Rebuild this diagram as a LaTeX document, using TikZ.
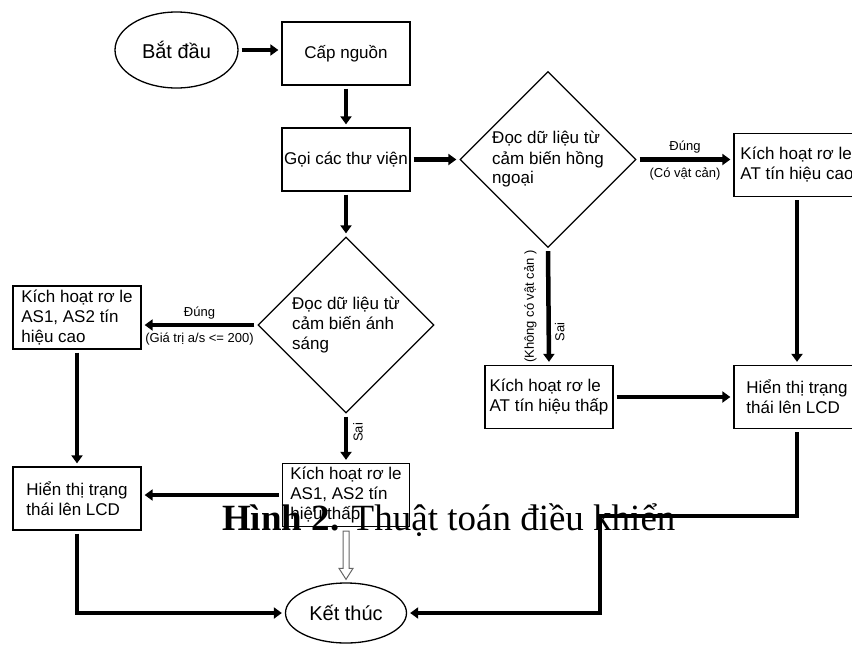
\documentclass[tikz,border=0pt]{standalone}
\usepackage{fontspec}
\setmainfont{Liberation Serif}
\newfontfamily\arialfont{Liberation Sans}
\usetikzlibrary{arrows.meta,shapes.geometric,calc}
\begin{document}
\begin{tikzpicture}[x=1pt,y=-1pt,
  boxtext/.style={font=\arialfont\fontsize{17}{20}\selectfont},
  box/.style={boxtext, draw, line width=1.3pt, rectangle, minimum width=128pt,
    minimum height=63pt, inner sep=2pt, align=left},
  oval/.style={draw, line width=1.3pt, ellipse, minimum width=122pt,
    minimum height=64pt, font=\arialfont\fontsize{20}{24}\selectfont},
  decision/.style={boxtext, draw, line width=1.3pt, diamond, minimum width=176pt,
    minimum height=176pt, inner sep=-6pt, align=left},
  flow/.style={line width=4.5pt, -{Triangle[length=8pt,width=11pt]},
    shorten <=3pt, shorten >=3pt},
  lbl/.style={font=\arialfont\fontsize{13}{15}\selectfont, inner sep=1pt},
  hollow/.style={draw=black!60, line width=1pt, fill=white},
]
\useasboundingbox (0,0) rectangle (852,646);
\clip (0,0) rectangle (852,646);

% start, power and library setup
\node[oval, minimum width=123pt, minimum height=76pt] (start) at (176.5,50) {Bắt đầu};
\node[box, align=center] (cap) at (346,53.5) {Cấp nguồn};
\node[box, align=center] (goi) at (346,159.5) {Gọi các thư viện};

% infrared sensor branch
\node[decision] (ir) at (548,159.5) {Đọc dữ liệu từ\\cảm biến hồng\\ngoại};
\node[box, minimum width=126pt] (atcao) at (797,165) {Kích hoạt rơ le\\AT tín hiệu cao};
\node[box] (atthap) at (549,397) {Kích hoạt rơ le\\AT tín hiệu thấp};
\node[box, minimum width=126pt] (hienR) at (797,397) {Hiển thị trạng\\thái lên LCD};

% light sensor branch
\node[decision] (light) at (346,325) {Đọc dữ liệu từ\\cảm biến ánh\\sáng};
\node[box] (ascao) at (77,317.5) {Kích hoạt rơ le\\AS1, AS2 tín\\hiệu cao};
\node[box] (hienL) at (77,498.5) {Hiển thị trạng\\thái lên LCD};
\node[box, minimum width=127pt] (asthap) at (346,495) {Kích hoạt rơ le\\AS1, AS2 tín\\hiệu thấp};

% end
\node[oval, minimum width=121pt, minimum height=60pt] (end) at (346,613) {Kết thúc};

\coordinate (rturn) at (600,516);

% connectors
\draw[flow] (start.east) -- (start.east -| cap.west);
\draw[flow] (cap.south) -- (goi.north);
\draw[flow] (goi.east) -- (ir.west);
\draw[flow] (goi.south) -- (light.north);

\draw[flow] (ir.east) -- (ir.east -| atcao.west)
  node[lbl, midway, above=3pt] {Đúng}
  node[lbl, midway, below=5pt] {(Có vật cản)};
\draw[flow] (ir.south) -- (atthap.north)
  node[lbl, midway, rotate=90, yshift=18pt] {(Không có vật cản )}
  node[lbl, pos=0.72, rotate=90, yshift=-11pt] {Sai};
\draw[flow] (atcao.south) -- (hienR.north);
\draw[flow] (atthap.east) -- (atthap.east -| hienR.west);

\draw[flow] (light.west) -- (light.west -| ascao.east)
  node[lbl, midway, above=3pt] {Đúng}
  node[lbl, midway, below=5pt] {(Giá trị a/s <= 200)};
\draw[flow] (light.south) -- (asthap.north)
  node[lbl, pos=0.38, rotate=90, yshift=-12pt] {Sai};
\draw[flow] (ascao.south) -- (hienL.north);
\draw[flow] (asthap.west) -- (asthap.west -| hienL.east);

\draw[flow] (hienL.south) |- (end.west);
\draw[flow] (hienR.south) |- (rturn) |- (end.east);

% open block arrow from the low-signal relay to the end
\draw[hollow] ($(asthap.south)+(-3,4)$) -- ($(end.north)+(-3,-14)$)
  -- ($(end.north)+(-7,-14)$) -- ($(end.north)+(0,-3)$)
  -- ($(end.north)+(7,-14)$) -- ($(end.north)+(3,-14)$)
  -- ($(asthap.south)+(3,4)$) -- cycle;

% figure caption
\node[anchor=base west, inner sep=0pt, font=\fontsize{37}{40}\selectfont] (caption)
  at (222,530) {\textbf{Hình 2.} Thuật toán điều khiển};
\end{tikzpicture}
\end{document}
